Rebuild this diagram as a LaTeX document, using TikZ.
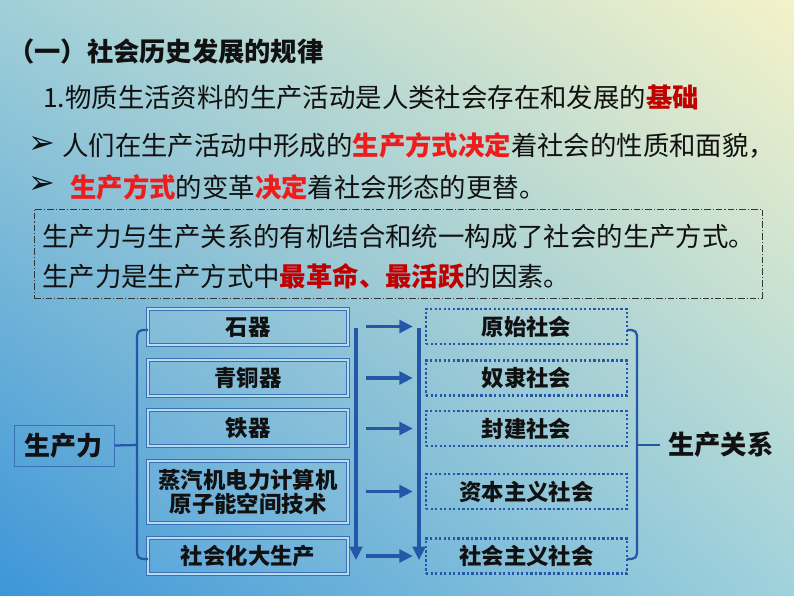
\documentclass[tikz,border=0pt]{standalone}
\usepackage{fontspec}
\setmainfont{Noto Sans CJK SC}
\newfontfamily\symf{DejaVu Sans}
\usetikzlibrary{arrows.meta,calc,shadings}
\definecolor{bgUL}{HTML}{A0CFD8}
\definecolor{bgUR}{HTML}{F4F2C8}
\definecolor{bgLL}{HTML}{3D95D8}
\definecolor{bgLR}{HTML}{A0D2DC}
\definecolor{lblue}{HTML}{2557A8}
\definecolor{bxblue}{HTML}{3A70B8}
\definecolor{bxlight}{HTML}{B8DCEF}
\definecolor{bred}{HTML}{EE1C1C}
\definecolor{dred}{HTML}{C00000}
\definecolor{ink}{HTML}{111111}
\begin{document}
\begin{tikzpicture}[x=0.75pt,y=-0.75pt,
  txt/.style={anchor=west,inner sep=0pt,text=ink,font=\fontsize{19.8pt}{23pt}\selectfont},
  bullet/.style={inner sep=0pt,text=ink,font=\symf\fontsize{24pt}{26pt}\selectfont},
  dashbox/.style={draw=ink!85,line width=0.75pt,dash pattern=on 5pt off 1.5pt on 0.8pt off 1.5pt},
  lbox/.style={draw=bxblue,double=bxlight,double distance=0.8pt,line width=0.75pt,
     fill=white,fill opacity=0.06,text opacity=1,text=ink,minimum width=150pt,
     font=\bfseries\fontsize{16.8pt}{20pt}\selectfont,align=center,inner sep=0pt},
  rbox/.style={draw=lblue,line width=1.8pt,dash pattern=on 1.7pt off 1.7pt,
     text=ink,minimum width=150.75pt,minimum height=26.25pt,
     font=\bfseries\fontsize{16.8pt}{20pt}\selectfont,inner sep=0pt},
  arr/.style={draw=lblue,line width=2.3pt,-{Triangle[length=10pt,width=9.5pt]}},
  brk/.style={draw=lblue,line width=1.7pt,rounded corners=4pt}
]
\useasboundingbox (0,0) rectangle (794,596);
\shade[upper left=bgUL,upper right=bgUR,lower left=bgLL,lower right=bgLR] (0,0) rectangle (794,596);

% header text
\node[txt,font=\bfseries\fontsize{19.7pt}{23pt}\selectfont] (title) at (8,52) {（一）社会历史发展的规律};
\node[txt] (l1) at (43,97) {1.物质生活资料的生产活动是人类社会存在和发展的{\bfseries\color{dred}基础}};
\node[bullet] (m1) at (42,145) {➢};
\node[txt] (l2) at (62,145) {人们在生产活动中形成的{\bfseries\color{bred}生产方式决定}着社会的性质和面貌，};
\node[bullet] (m2) at (42,185) {➢};
\node[txt] (l3) at (70,187) {{\bfseries\color{bred}生产方式}的变革{\bfseries\color{bred}决定}着社会形态的更替。};

% dashed box
\node[dashbox,minimum width=546pt,minimum height=66.75pt,inner sep=0pt] (dbox) at (398,253.5) {};
\node[txt] (d1) at (42,236) {生产力与生产关系的有机结合和统一构成了社会的生产方式。};
\node[txt] (d2) at (42,276) {生产力是生产方式中{\bfseries\color{dred}最革命、最活跃}的因素。};

% left boxes
\node[lbox,minimum height=27pt] (L1) at (248,327) {石器};
\node[lbox,minimum height=27pt] (L2) at (248,378) {青铜器};
\node[lbox,minimum height=27pt] (L3) at (248,428) {铁器};
\node[lbox,minimum height=46.5pt] (L4) at (248,492) {蒸汽机电力计算机\\[-2pt]原子能空间技术};
\node[lbox,minimum height=27pt] (L5) at (248,556) {社会化大生产};

% productive forces box
\node[draw=bxblue,line width=0.75pt,minimum width=75pt,minimum height=30.75pt,inner sep=0pt,
      text=ink,font=\bfseries\fontsize{19.5pt}{22pt}\selectfont] (SCL) at (64,445.5) {生产力};

% right boxes
\node[rbox] (R1) at (526.5,326.5) {原始社会};
\node[rbox] (R2) at (526.5,378) {奴隶社会};
\node[rbox] (R3) at (526.5,428.5) {封建社会};
\node[rbox] (R4) at (526.5,491.5) {资本主义社会};
\node[rbox] (R5) at (526.5,556) {社会主义社会};

\node[anchor=west,inner sep=0pt,text=ink,font=\bfseries\fontsize{19.7pt}{22pt}\selectfont] (SCGX) at (668,445) {生产关系};

% left bracket
\coordinate (lbm) at (137,445);
\draw[brk] (148,330) -- (137,330) -- (137,559) -- (148,559);
\draw[draw=lblue,line width=1.7pt] (SCL.east) -- (lbm);

% right bracket
\coordinate (rbm) at (637,445);
\draw[brk] (627,330) -- (637,330) -- (637,559) -- (627,559);
\draw[draw=lblue,line width=1.7pt,shorten >=6pt] (rbm) -- (SCGX.west);

% down arrows
\coordinate (d1s) at (356,328);
\coordinate (d1e) at (356,560);
\coordinate (d2s) at (419,328);
\coordinate (d2e) at (419,560);
\draw[arr] (d1s) -- (d1e);
\draw[arr] (d2s) -- (d2e);

% horizontal arrows
\foreach \i in {1,...,5}{
  \draw[arr,shorten <=12.75pt,shorten >=9pt] (L\i.east |- R\i.west) -- (R\i.west);
}
\end{tikzpicture}
\end{document}
